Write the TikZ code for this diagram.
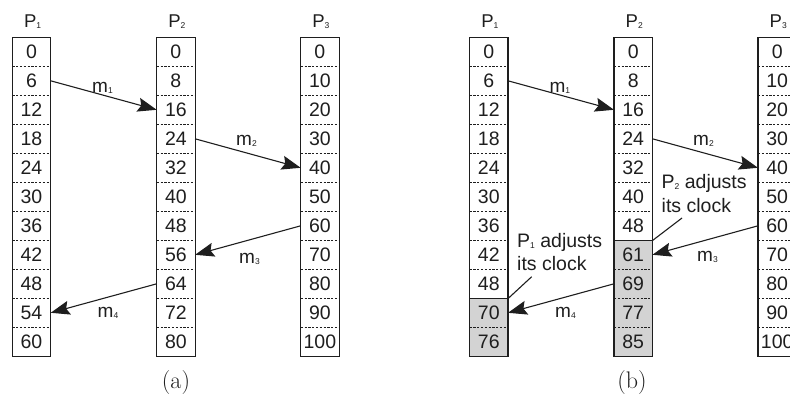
\documentclass[tikz,border=0pt]{standalone}
\usepackage{fontspec}
\newfontfamily\lsans{Liberation Sans}
\usetikzlibrary{arrows.meta}
\definecolor{ink}{HTML}{1E1E1E}
\definecolor{cellgray}{HTML}{D3D3D3}
\newcommand\lsub[1]{\raisebox{-1.5pt}{\fontsize{8.5}{9}\selectfont #1}}
\newcommand\proccol[3]{%
  \foreach \v [count=\i from 0] in {#3} {\node[cell] (#1-\i) at ({#2+19.2},{51.8+29*\i}) {\v};}
  \foreach \k in {1,...,10} {\draw[sep] ({#2},{37.3+29*\k}) -- ({#2+38.4},{37.3+29*\k});}
  \draw[frame] (#2,37.3) rectangle ({#2+38.4},356.3);
}
\begin{document}
\begin{tikzpicture}[x=1pt,y=-1pt,
  cell/.style={minimum width=38pt,minimum height=28pt,inner sep=0pt,text=ink,
    font=\lsans\fontsize{19.5}{20}\selectfont},
  sep/.style={draw=ink,line width=0.9pt,dash pattern=on 2.2pt off 1.6pt},
  frame/.style={draw=ink,line width=1.1pt},
  solidsep/.style={draw=ink,line width=1.1pt},
  grayfill/.style={fill=cellgray,draw=none},
  msg/.style={draw=ink,line width=1.1pt,-{Stealth[length=19pt,width=14pt,inset=3pt]}},
  lbl/.style={anchor=base west,inner sep=0pt,text=ink,font=\lsans\fontsize{19}{20}\selectfont},
  plbl/.style={anchor=base west,inner sep=0pt,text=ink,font=\lsans\fontsize{18.5}{20}\selectfont},
  note/.style={anchor=base west,inner sep=0pt,text=ink,font=\lsans\fontsize{19.5}{20}\selectfont},
  noteline/.style={draw=ink,line width=1.1pt},
  captxt/.style={anchor=base,inner sep=0pt,text=ink,font=\fontsize{24}{26}\selectfont}
]
\useasboundingbox (0,0) rectangle (790,394);

% gray fills (panel b)
\fill[grayfill] (469.6,{37.3+29*9}) rectangle ({469.6+38.4},356.3);
\fill[grayfill] (614.0,{37.3+29*7}) rectangle ({614.0+38.4},356.3);

% columns panel (a)
\proccol{a1}{12.3}{0,6,12,18,24,30,36,42,48,54,60}
\proccol{a2}{156.7}{0,8,16,24,32,40,48,56,64,72,80}
\proccol{a3}{300.7}{0,10,20,30,40,50,60,70,80,90,100}
% columns panel (b)
\proccol{b1}{469.6}{0,6,12,18,24,30,36,42,48,70,76}
\proccol{b2}{614.0}{0,8,16,24,32,40,48,61,69,77,85}
\proccol{b3}{758.0}{0,10,20,30,40,50,60,70,80,90,100}

% solid boundaries where clocks were adjusted
\draw[solidsep] (469.6,{37.3+29*9}) -- ({469.6+38.4},{37.3+29*9});
\draw[solidsep] (614.0,{37.3+29*7}) -- ({614.0+38.4},{37.3+29*7});

% process labels
\node[plbl] (pa1) at (23.8,27) {P\lsub{1}};
\node[plbl] (pa2) at (168.2,27) {P\lsub{2}};
\node[plbl] (pa3) at (312.2,27) {P\lsub{3}};
\node[plbl] (pb1) at (481.1,27) {P\lsub{1}};
\node[plbl] (pb2) at (625.5,27) {P\lsub{2}};
\node[plbl] (pb3) at (769.5,27) {P\lsub{3}};

% messages panel (a)
\draw[msg] (a1-1.east) -- (a2-2.west);
\draw[msg] (a2-3.east) -- (a3-4.west);
\draw[msg] (a3-6.west) -- (a2-7.east);
\draw[msg] (a2-8.west) -- (a1-9.east);
\node[lbl] (ma1) at (92,92) {m\lsub{1}};
\node[lbl] (ma2) at (236,145) {m\lsub{2}};
\node[lbl] (ma3) at (239,263) {m\lsub{3}};
\node[lbl] (ma4) at (97.5,317) {m\lsub{4}};

% messages panel (b)
\draw[msg] (b1-1.east) -- (b2-2.west);
\draw[msg] (b2-3.east) -- (b3-4.west);
\draw[msg] (b3-6.west) -- (b2-7.east);
\draw[msg] (b2-8.west) -- (b1-9.east);
\node[lbl] (mb1) at (549.3,92) {m\lsub{1}};
\node[lbl] (mb2) at (693,145) {m\lsub{2}};
\node[lbl] (mb3) at (697,261) {m\lsub{3}};
\node[lbl] (mb4) at (555,317) {m\lsub{4}};

% annotations
\node[note] (n2a) at (661.5,188) {P\lsub{2} adjusts};
\node[note] (n2b) at (661.5,212) {its clock};
\coordinate (n2tail) at (682,218);
\draw[noteline] (n2tail) -- (b2-7.north east);
\node[note] (n1a) at (517,247) {P\lsub{1} adjusts};
\node[note] (n1b) at (517,270) {its clock};
\coordinate (n1tail) at (531.7,276.7);
\draw[noteline] (n1tail) -- (b1-9.north east);

% captions
\node[captxt] (capa) at (176,388) {(a)};
\node[captxt] (capb) at (632,388) {(b)};
\end{tikzpicture}
\end{document}
